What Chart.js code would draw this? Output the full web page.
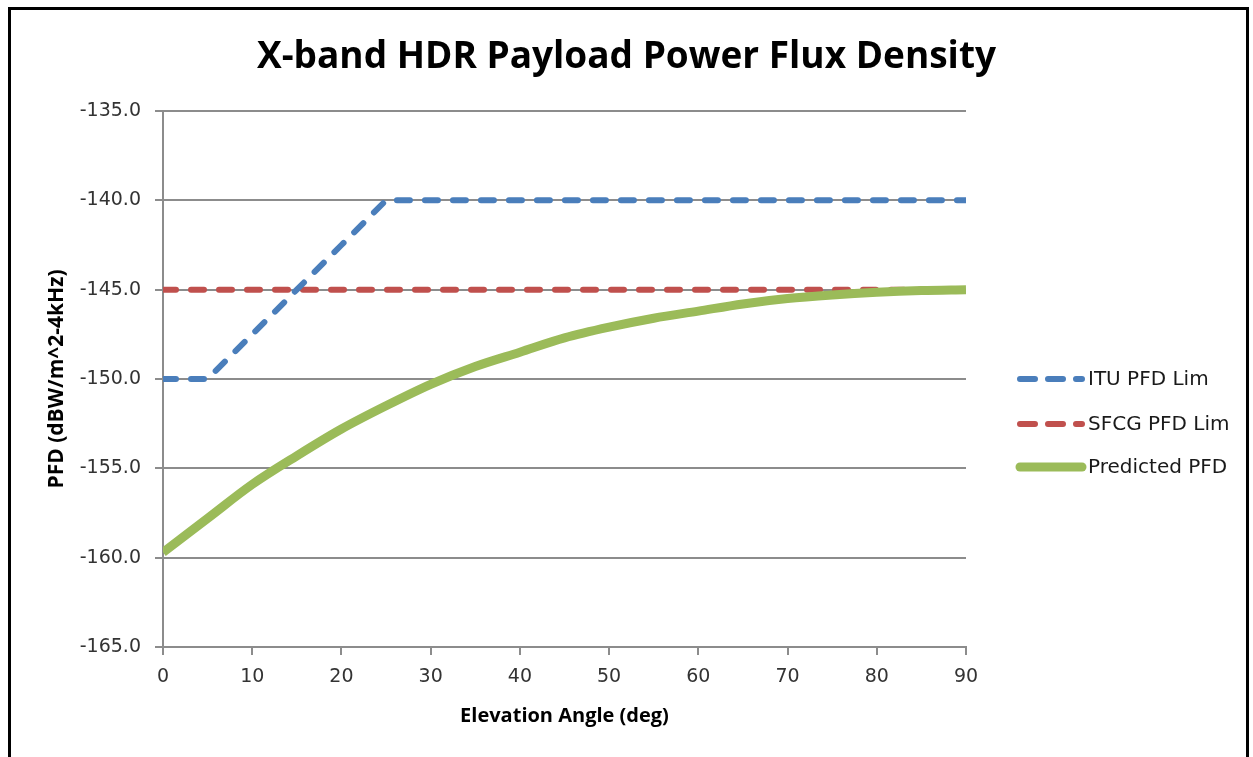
<!DOCTYPE html>
<html>
<head>
<meta charset="utf-8">
<script src="https://cdn.jsdelivr.net/npm/chart.js@4.4.1/dist/chart.umd.min.js"></script>
<style>
  html, body { margin: 0; padding: 0; background: #fff; }
  #wrap { width: 1253px; height: 757px; position: relative; }
</style>
</head>
<body>
<div id="wrap"><canvas id="c"></canvas></div>
<script>
const elevationDeg = [0, 5, 10, 15, 20, 25, 30, 35, 40, 45, 50, 55, 60, 65, 70, 75, 80, 85, 90];
const ituPfdLim   = [-150, -150, -147.5, -145, -142.5, -140, -140, -140, -140, -140, -140, -140, -140, -140, -140, -140, -140, -140, -140];
const sfcgPfdLim  = [-145, -145, -145, -145, -145, -145, -145, -145, -145, -145, -145, -145, -145, -145, -145, -145, -145, -145, -145];
const predictedPfd = [-159.7, -157.8, -155.9, -154.3, -152.8, -151.5, -150.3, -149.3, -148.5, -147.7, -147.1, -146.6, -146.2, -145.8, -145.5, -145.3, -145.15, -145.05, -145.0];
const seriesNames = ['ITU PFD Lim', 'SFCG PFD Lim', 'Predicted PFD'];
const xTicks = [0, 10, 20, 30, 40, 50, 60, 70, 80, 90];
const yTicks = [-165, -160, -155, -150, -145, -140, -135];

const toPts = arr => elevationDeg.map((x, i) => ({ x: x, y: arr[i] }));

const BLUE = '#4a7ebb', RED = '#c0504d', GREEN = '#9bbb59';
const GRID = '#8c8c8c';
const TICK_FONT = { family: 'DejaVu Sans', size: 19, lineHeight: 1.2 };

const framePlugin = {
  id: 'frame',
  afterDraw(chart) {
    const ctx = chart.ctx;
    ctx.save();
    ctx.strokeStyle = '#000';
    ctx.lineWidth = 3;
    ctx.strokeRect(9.5, 8.5, 1238, 760);
    ctx.restore();
  }
};

const legendPlugin = {
  id: 'customLegend',
  afterDraw(chart) {
    const ctx = chart.ctx;
    const rows = [379, 424, 467];
    chart.data.datasets.forEach((ds, i) => {
      const y = rows[i];
      const dashed = !!ds.borderDash;
      ctx.save();
      ctx.strokeStyle = ds.borderColor;
      ctx.lineWidth = ds.borderWidth;
      ctx.lineCap = 'round';
      ctx.setLineDash(dashed ? [15, 13] : []);
      ctx.beginPath();
      ctx.moveTo(1020, y);
      ctx.lineTo(1082, y);
      ctx.stroke();
      ctx.restore();
      ctx.save();
      ctx.fillStyle = '#1a1a1a';
      ctx.font = '20px "DejaVu Sans"';
      ctx.textBaseline = 'middle';
      ctx.textAlign = 'left';
      ctx.fillText(ds.label, 1088, y + 1);
      ctx.restore();
    });
  }
};

new Chart(document.getElementById('c'), {
  type: 'line',
  data: {
    datasets: [
      { label: seriesNames[0], data: toPts(ituPfdLim), borderColor: BLUE, backgroundColor: BLUE,
        borderWidth: 6, borderDash: [13, 15], borderCapStyle: 'round', pointRadius: 0, tension: 0, order: 2 },
      { label: seriesNames[1], data: toPts(sfcgPfdLim), borderColor: RED, backgroundColor: RED,
        borderWidth: 6, borderDash: [13, 15], borderCapStyle: 'round', pointRadius: 0, tension: 0, order: 3 },
      { label: seriesNames[2], data: toPts(predictedPfd), borderColor: GREEN, backgroundColor: GREEN,
        borderWidth: 9, pointRadius: 0, cubicInterpolationMode: 'monotone', order: 1 }
    ]
  },
  options: {
    responsive: true,
    maintainAspectRatio: false,
    animation: false,
    layout: { padding: 0 },
    plugins: {
      legend: { display: false },
      tooltip: { enabled: false },
      title: {
        display: true,
        text: 'X-band HDR Payload Power Flux Density',
        color: '#000',
        font: { family: 'Open Sans', size: 37, weight: 'bold', lineHeight: 1.2 },
        padding: { top: 35, bottom: 31.6 }
      }
    },
    scales: {
      x: {
        type: 'linear', min: 0, max: 90,
        afterBuildTicks: s => { s.ticks = xTicks.map(v => ({ value: v })); },
        afterFit: s => { s.height = 110; },
        ticks: { font: TICK_FONT, color: '#333', padding: 11, maxRotation: 0 },
        grid: { drawOnChartArea: false, drawTicks: true, tickLength: 8, color: GRID, lineWidth: 2 },
        border: { color: GRID, width: 2 },
        title: { display: true, text: 'Elevation Angle (deg)', color: '#000',
          font: { family: 'Open Sans', size: 20, weight: 'bold', lineHeight: 1.2 },
          padding: { top: 0, bottom: 29 } }
      },
      y: {
        type: 'linear', min: -165, max: -135,
        afterBuildTicks: s => { s.ticks = yTicks.map(v => ({ value: v })); },
        afterFit: s => { s.width = 163; },
        ticks: { font: TICK_FONT, color: '#333', padding: 14, callback: v => v.toFixed(1) },
        grid: { drawTicks: true, tickLength: 8, color: GRID, lineWidth: 2 },
        border: { color: GRID, width: 2 },
        title: { display: true, text: 'PFD (dBW/m^2-4kHz)', color: '#000',
          font: { family: 'Open Sans', size: 21, weight: 'bold', lineHeight: 1.2 },
          padding: { top: 44, bottom: 0 } }
      },
      legendSpace: {
        type: 'linear', position: 'right', display: true,
        afterFit: s => { s.width = 1253 - 966; },
        ticks: { display: false },
        grid: { display: false, drawTicks: false },
        border: { display: false }
      }
    }
  },
  plugins: [framePlugin, legendPlugin]
});
</script>
</body>
</html>
